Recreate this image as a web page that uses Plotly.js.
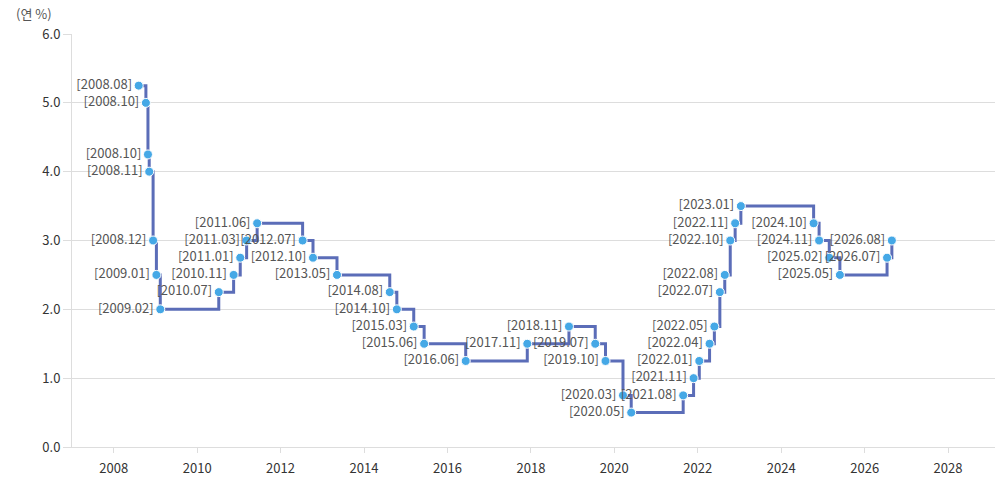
<!DOCTYPE html>
<html>
<head>
<meta charset="utf-8">
<script src="https://cdn.plot.ly/plotly-3.0.1.min.js"></script>
<style>
html,body{margin:0;padding:0;background:#fff;}
#chart{width:1000px;height:488px;}
</style>
</head>
<body>
<div id="chart"></div>
<script>
// Base rate change dates (x), rate values (%), and point labels
const changeDates = ['2008-08-07','2008-10-09','2008-10-27','2008-11-07','2008-12-11','2009-01-09','2009-02-12',
  '2010-07-09','2010-11-16','2011-01-13','2011-03-10','2011-06-10','2012-07-12','2012-10-11','2013-05-09',
  '2014-08-14','2014-10-15','2015-03-12','2015-06-11','2016-06-09','2017-11-30','2018-11-30','2019-07-18',
  '2019-10-16','2020-03-17','2020-05-28','2021-08-26','2021-11-25','2022-01-14','2022-04-14','2022-05-26',
  '2022-07-13','2022-08-25','2022-10-12','2022-11-24','2023-01-13','2024-10-11','2024-11-28','2025-02-25',
  '2025-05-29','2026-07-16','2026-08-27'];
const rates = [5.25,5.00,4.25,4.00,3.00,2.50,2.00,
  2.25,2.50,2.75,3.00,3.25,3.00,2.75,2.50,
  2.25,2.00,1.75,1.50,1.25,1.50,1.75,1.50,
  1.25,0.75,0.50,0.75,1.00,1.25,1.50,1.75,
  2.25,2.50,3.00,3.25,3.50,3.25,3.00,2.75,
  2.50,2.75,3.00];
const pointLabels = ['[2008.08]','[2008.10]','[2008.10]','[2008.11]','[2008.12]','[2009.01]','[2009.02]',
  '[2010.07]','[2010.11]','[2011.01]','[2011.03]','[2011.06]','[2012.07]','[2012.10]','[2013.05]',
  '[2014.08]','[2014.10]','[2015.03]','[2015.06]','[2016.06]','[2017.11]','[2018.11]','[2019.07]',
  '[2019.10]','[2020.03]','[2020.05]','[2021.08]','[2021.11]','[2022.01]','[2022.04]','[2022.05]',
  '[2022.07]','[2022.08]','[2022.10]','[2022.11]','[2023.01]','[2024.10]','[2024.11]','[2025.02]',
  '[2025.05]','[2026.07]','[2026.08]'];
const yTickVals = [0,1,2,3,4,5,6];
const yTickText = ['0.0','1.0','2.0','3.0','4.0','5.0','6.0'];
const unitLabel = '(연 %)';

const FONT = '"Noto Sans CJK KR", "Noto Sans", sans-serif';

const trace = {
  type: 'scatter',
  mode: 'lines+markers+text',
  x: changeDates,
  y: rates,
  text: pointLabels,
  textposition: 'middle left',
  textfont: {family: FONT, size: 13, color: '#555555'},
  line: {shape: 'hv', color: '#5b6db8', width: 3},
  marker: {size: 9, color: '#45a8e6', line: {color: '#ffffff', width: 1}},
  hoverinfo: 'none',
  cliponaxis: false
};

const layout = {
  width: 1000,
  height: 488,
  margin: {l: 72, r: 5, t: 34, b: 41},
  paper_bgcolor: '#ffffff',
  plot_bgcolor: '#ffffff',
  showlegend: false,
  font: {family: FONT, size: 13, color: '#333333'},
  xaxis: {
    type: 'date',
    range: ['2007-01-01', '2029-02-15'],
    tick0: '2008-01-01',
    dtick: 'M24',
    tickformat: '%Y',
    showgrid: false,
    zeroline: false,
    showline: true,
    linecolor: '#dddddd',
    linewidth: 1,
    ticks: 'outside',
    ticklen: 5,
    tickcolor: '#dddddd',
    ticklabelstandoff: 4,
    tickfont: {family: FONT, size: 13, color: '#333333'}
  },
  yaxis: {
    range: [0, 6],
    tickvals: yTickVals,
    ticktext: yTickText,
    showgrid: true,
    gridcolor: '#dddddd',
    zeroline: false,
    showline: true,
    linecolor: '#dddddd',
    linewidth: 1,
    ticks: 'outside',
    ticklen: 8,
    tickcolor: '#dddddd',
    tickfont: {family: FONT, size: 13, color: '#333333'}
  },
  annotations: [{
    text: unitLabel,
    xref: 'paper', yref: 'paper',
    x: -0.026, y: 1,
    xanchor: 'right', yanchor: 'bottom',
    xshift: 6,
    yshift: 9,
    showarrow: false,
    font: {family: FONT, size: 13, color: '#555555'}
  }]
};

Plotly.newPlot('chart', [trace], layout, {displayModeBar: false, staticPlot: true});
</script>
</body>
</html>
